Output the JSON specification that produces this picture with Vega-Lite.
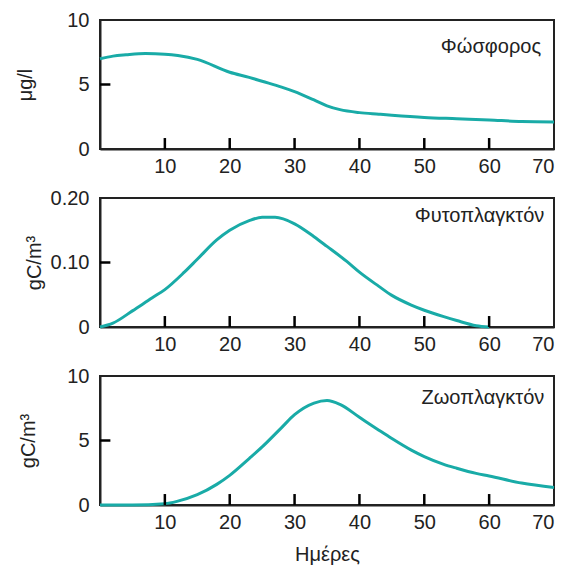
{
  "$schema": "https://vega.github.io/schema/vega-lite/v6.json",
  "background": "white",
  "padding": {"left": 14, "top": 9, "right": 5, "bottom": 5},
  "spacing": 10,
  "config": {
    "font": "Liberation Sans",
    "view": {"stroke": "#222", "strokeWidth": 2},
    "axis": {"grid": false, "ticks": false, "domainColor": "#222", "domainWidth": 2, "labelFontSize": 20, "labelColor": "#222", "titleFontSize": 20, "titleFontWeight": "normal", "titleColor": "#222", "labelFont": "Liberation Sans", "titleFont": "Liberation Sans"}
  },
  "datasets": {
    "xt": [{"t": 10}, {"t": 20}, {"t": 30}, {"t": 40}, {"t": 50}, {"t": 60}],
    "phos": [
      {"day": 0, "value": 7.0}, {"day": 2, "value": 7.2}, {"day": 4, "value": 7.3}, {"day": 7, "value": 7.4}, {"day": 10, "value": 7.35}, {"day": 12, "value": 7.25}, {"day": 15, "value": 6.95}, {"day": 20, "value": 5.95}, {"day": 23, "value": 5.55}, {"day": 25, "value": 5.25}, {"day": 28, "value": 4.8}, {"day": 30, "value": 4.45}, {"day": 33, "value": 3.8}, {"day": 35, "value": 3.35}, {"day": 37, "value": 3.05}, {"day": 40, "value": 2.82}, {"day": 43, "value": 2.7}, {"day": 45, "value": 2.62}, {"day": 50, "value": 2.45}, {"day": 55, "value": 2.35}, {"day": 60, "value": 2.25}, {"day": 65, "value": 2.13}, {"day": 70, "value": 2.1}
    ],
    "phyto": [
      {"day": 0, "value": 0}, {"day": 2, "value": 0.006}, {"day": 5, "value": 0.025}, {"day": 8, "value": 0.045}, {"day": 10, "value": 0.058}, {"day": 13, "value": 0.085}, {"day": 15, "value": 0.105}, {"day": 18, "value": 0.135}, {"day": 20, "value": 0.15}, {"day": 23, "value": 0.165}, {"day": 25, "value": 0.17}, {"day": 27, "value": 0.17}, {"day": 30, "value": 0.16}, {"day": 33, "value": 0.14}, {"day": 35, "value": 0.125}, {"day": 38, "value": 0.102}, {"day": 40, "value": 0.085}, {"day": 43, "value": 0.063}, {"day": 45, "value": 0.049}, {"day": 48, "value": 0.034}, {"day": 50, "value": 0.026}, {"day": 53, "value": 0.016}, {"day": 55, "value": 0.01}, {"day": 58, "value": 0.002}, {"day": 60, "value": 0}
    ],
    "zoo": [
      {"day": 0, "value": 0}, {"day": 5, "value": 0}, {"day": 10, "value": 0.1}, {"day": 12, "value": 0.3}, {"day": 15, "value": 0.8}, {"day": 18, "value": 1.6}, {"day": 20, "value": 2.3}, {"day": 23, "value": 3.6}, {"day": 25, "value": 4.5}, {"day": 28, "value": 6.0}, {"day": 30, "value": 7.0}, {"day": 33, "value": 7.9}, {"day": 35, "value": 8.1}, {"day": 37, "value": 7.8}, {"day": 40, "value": 6.8}, {"day": 43, "value": 5.8}, {"day": 45, "value": 5.15}, {"day": 48, "value": 4.25}, {"day": 50, "value": 3.75}, {"day": 53, "value": 3.15}, {"day": 55, "value": 2.85}, {"day": 58, "value": 2.45}, {"day": 60, "value": 2.25}, {"day": 65, "value": 1.7}, {"day": 70, "value": 1.35}
    ]
  },
  "vconcat": [
    {
      "width": 454, "height": 129,
      "layer": [
        {
          "data": {"name": "phos"},
          "mark": {"type": "line", "color": "#19aba7", "strokeWidth": 3, "interpolate": "monotone"},
          "encoding": {
            "x": {"field": "day", "type": "quantitative", "scale": {"domain": [0, 70], "nice": false}, "axis": {"values": [0, 10, 20, 30, 40, 50, 60, 70], "labelExpr": "datum.value == 0 ? '' : datum.label", "title": null, "labelPadding": 7}},
            "y": {"field": "value", "type": "quantitative", "scale": {"domain": [0, 10], "nice": false}, "axis": {"values": [0, 5, 10], "title": "μg/l", "labelPadding": 11, "titlePadding": 31}}
          }
        },
        {
          "data": {"name": "xt"},
          "mark": {"type": "rule", "color": "black", "strokeWidth": 2.5},
          "encoding": {"x": {"field": "t", "type": "quantitative"}, "y": {"datum": 0}, "y2": {"datum": 0.85}}
        },
        {
          "data": {"values": [{"t": 5}]},
          "mark": {"type": "rule", "color": "black", "strokeWidth": 2.5},
          "encoding": {"y": {"field": "t", "type": "quantitative"}, "x": {"datum": 0}, "x2": {"datum": 1.6}}
        },
        {
          "data": {"values": [{"label": "Φώσφορος", "day": 68, "value": 7.9}]},
          "mark": {"type": "text", "align": "right", "baseline": "middle", "fontSize": 20, "font": "Liberation Sans", "color": "#222"},
          "encoding": {"x": {"field": "day", "type": "quantitative"}, "y": {"field": "value", "type": "quantitative"}, "text": {"field": "label"}}
        }
      ]
    },
    {
      "width": 454, "height": 129,
      "layer": [
        {
          "data": {"name": "phyto"},
          "mark": {"type": "line", "color": "#19aba7", "strokeWidth": 3, "interpolate": "monotone"},
          "encoding": {
            "x": {"field": "day", "type": "quantitative", "scale": {"domain": [0, 70], "nice": false}, "axis": {"values": [0, 10, 20, 30, 40, 50, 60, 70], "labelExpr": "datum.value == 0 ? '' : datum.label", "title": null, "labelPadding": 7}},
            "y": {"field": "value", "type": "quantitative", "scale": {"domain": [0, 0.2], "nice": false}, "axis": {"values": [0, 0.1, 0.2], "labelExpr": "datum.value == 0 ? '0' : format(datum.value, '.2f')", "title": "gC/m³", "labelPadding": 11, "titlePadding": 6}}
          }
        },
        {
          "data": {"name": "xt"},
          "mark": {"type": "rule", "color": "black", "strokeWidth": 2.5},
          "encoding": {"x": {"field": "t", "type": "quantitative"}, "y": {"datum": 0}, "y2": {"datum": 0.017}}
        },
        {
          "data": {"values": [{"t": 0.1}]},
          "mark": {"type": "rule", "color": "black", "strokeWidth": 2.5},
          "encoding": {"y": {"field": "t", "type": "quantitative"}, "x": {"datum": 0}, "x2": {"datum": 1.6}}
        },
        {
          "data": {"values": [{"label": "Φυτοπλαγκτόν", "day": 68.5, "value": 0.172}]},
          "mark": {"type": "text", "align": "right", "baseline": "middle", "fontSize": 20, "font": "Liberation Sans", "color": "#222"},
          "encoding": {"x": {"field": "day", "type": "quantitative"}, "y": {"field": "value", "type": "quantitative"}, "text": {"field": "label"}}
        }
      ]
    },
    {
      "width": 454, "height": 129,
      "layer": [
        {
          "data": {"name": "zoo"},
          "mark": {"type": "line", "color": "#19aba7", "strokeWidth": 3, "interpolate": "monotone"},
          "encoding": {
            "x": {"field": "day", "type": "quantitative", "scale": {"domain": [0, 70], "nice": false}, "axis": {"values": [0, 10, 20, 30, 40, 50, 60, 70], "labelExpr": "datum.value == 0 ? '' : datum.label", "title": "Ημέρες", "labelPadding": 7, "titlePadding": 12}},
            "y": {"field": "value", "type": "quantitative", "scale": {"domain": [0, 10], "nice": false}, "axis": {"values": [0, 5, 10], "title": "gC/m³", "labelPadding": 11, "titlePadding": 28}}
          }
        },
        {
          "data": {"name": "xt"},
          "mark": {"type": "rule", "color": "black", "strokeWidth": 2.5},
          "encoding": {"x": {"field": "t", "type": "quantitative"}, "y": {"datum": 0}, "y2": {"datum": 0.85}}
        },
        {
          "data": {"values": [{"t": 5}]},
          "mark": {"type": "rule", "color": "black", "strokeWidth": 2.5},
          "encoding": {"y": {"field": "t", "type": "quantitative"}, "x": {"datum": 0}, "x2": {"datum": 1.6}}
        },
        {
          "data": {"values": [{"label": "Ζωοπλαγκτόν", "day": 68.5, "value": 8.3}]},
          "mark": {"type": "text", "align": "right", "baseline": "middle", "fontSize": 20, "font": "Liberation Sans", "color": "#222"},
          "encoding": {"x": {"field": "day", "type": "quantitative"}, "y": {"field": "value", "type": "quantitative"}, "text": {"field": "label"}}
        }
      ]
    }
  ]
}
